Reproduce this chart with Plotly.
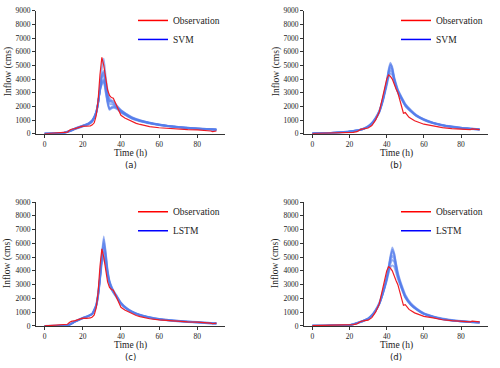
import plotly.graph_objects as go

# ---------------- Data ----------------
# Event 1 (panels a, c)
T_OBS1 = [0, 2, 4, 6, 8, 10, 12, 13, 14, 16, 18, 20, 22, 24, 25, 26, 27, 28, 29, 30, 31, 32, 33, 34, 35, 36, 37, 38,
          40, 42, 45, 48, 50, 55, 60, 65, 70, 75, 80, 85, 87, 88, 90]
OBS1 = [0, 20, 10, 30, 40, 60, 120, 250, 330, 380, 450, 560, 550, 580, 650, 800, 1300, 2400, 4300, 5600, 5000, 4000,
        3200, 2800, 2650, 2600, 2300, 1900, 1350, 1150, 950, 760, 680, 520, 440, 380, 330, 300, 280, 250, 200, 160, 200]

T_ENS1 = [0, 5, 10, 13, 16, 20, 23, 25, 27, 28, 29, 30, 31, 32, 33, 34, 35, 36, 38, 40, 43, 46, 50, 55, 60, 65, 70,
          75, 80, 85, 90]
SVM1 = [
    [0, 20, 60, 180, 350, 550, 700, 900, 1500, 2200, 3300, 4800, 5500, 4200, 3200, 2600, 2400, 2300, 2000, 1700, 1400, 1150, 950, 780, 650, 560, 480, 420, 380, 340, 300],
    [0, 25, 70, 200, 380, 580, 720, 950, 1550, 2250, 3300, 4300, 4600, 3700, 2900, 2400, 2300, 2200, 1950, 1650, 1380, 1150, 960, 790, 660, 560, 490, 430, 380, 340, 310],
    [0, 15, 50, 170, 330, 520, 680, 880, 1450, 2150, 3200, 4200, 4500, 3600, 2800, 2350, 2450, 2400, 2050, 1750, 1450, 1200, 1000, 820, 690, 580, 500, 440, 390, 350, 320],
    [0, 30, 80, 210, 400, 600, 760, 1000, 1600, 2300, 3200, 3800, 4000, 3300, 2400, 1850, 1950, 2000, 1900, 1600, 1350, 1120, 940, 780, 650, 560, 480, 420, 380, 340, 300],
    [0, 20, 60, 190, 370, 570, 740, 980, 1550, 2200, 3100, 3700, 3900, 3100, 2300, 1800, 1900, 1950, 1850, 1580, 1330, 1100, 930, 770, 640, 550, 470, 410, 370, 330, 290],
    [0, 25, 65, 200, 390, 590, 750, 990, 1580, 2250, 3150, 3600, 3800, 3000, 2200, 1750, 1850, 1900, 1800, 1550, 1300, 1080, 900, 750, 630, 540, 460, 400, 360, 320, 280],
    [0, 20, 55, 185, 360, 560, 730, 960, 1520, 2230, 3250, 4100, 4300, 3500, 2700, 2200, 2150, 2100, 1900, 1680, 1420, 1180, 980, 810, 680, 570, 500, 440, 390, 350, 310],
]
LSTM1 = [
    [0, 10, 20, 80, 300, 550, 700, 850, 1400, 2100, 3300, 5200, 6500, 5400, 4100, 3300, 2900, 2600, 2150, 1700, 1300, 1050, 820, 640, 520, 440, 380, 330, 290, 240, 200],
    [0, 10, 25, 90, 320, 560, 720, 880, 1450, 2200, 3400, 5100, 6300, 5300, 4000, 3250, 2850, 2550, 2100, 1680, 1280, 1030, 800, 630, 510, 430, 370, 320, 280, 230, 190],
    [0, 15, 30, 100, 330, 580, 740, 900, 1500, 2300, 3500, 5000, 6000, 5100, 3900, 3200, 2800, 2500, 2080, 1650, 1260, 1010, 790, 620, 500, 420, 360, 310, 270, 220, 180],
    [0, 15, 30, 100, 340, 590, 750, 920, 1550, 2350, 3500, 4900, 5700, 4900, 3800, 3150, 2750, 2480, 2060, 1630, 1240, 1000, 780, 610, 490, 410, 350, 300, 260, 210, 170],
    [0, 10, 20, 80, 310, 570, 730, 890, 1480, 2250, 3400, 4700, 5400, 4700, 3700, 3100, 2700, 2450, 2040, 1620, 1230, 990, 770, 600, 480, 400, 340, 290, 250, 200, 160],
    [0, 10, 25, 90, 320, 560, 720, 870, 1430, 2150, 3300, 4500, 5000, 4500, 3600, 3050, 2650, 2400, 2000, 1600, 1220, 980, 760, 590, 470, 390, 330, 280, 240, 190, 150],
]

# Event 2 (panels b, d)
T_OBS2 = [0, 5, 10, 15, 18, 20, 22, 24, 25, 26, 28, 30, 32, 34, 36, 38, 39, 40, 41, 42, 43, 44, 45, 46, 47, 48, 49, 50,
          52, 55, 58, 60, 65, 70, 75, 80, 85, 86, 88, 90]
OBS2 = [20, 30, 40, 50, 60, 80, 100, 150, 250, 320, 380, 420, 600, 1000, 1600, 2700, 3400, 4000, 4300, 4200, 4000, 3600,
        3300, 3000, 2500, 2100, 1500, 1550, 1200, 950, 800, 700, 580, 450, 380, 330, 300, 350, 310, 300]

T_ENS2B = [0, 5, 10, 15, 20, 25, 28, 30, 32, 34, 36, 38, 39, 40, 41, 42, 43, 44, 45, 46, 48, 50, 53, 56, 60, 65, 70,
           75, 80, 85, 90]
SVM2 = [
    [30, 40, 60, 100, 160, 260, 380, 520, 750, 1100, 1600, 2500, 3100, 3800, 4700, 5200, 4800, 4100, 3600, 3200, 2650, 2150, 1700, 1350, 1050, 800, 640, 530, 440, 380, 330],
    [30, 40, 60, 100, 160, 260, 380, 520, 740, 1080, 1580, 2450, 3050, 3700, 4500, 5000, 4700, 4050, 3550, 3150, 2600, 2100, 1680, 1330, 1040, 790, 630, 520, 430, 370, 320],
    [30, 45, 65, 110, 170, 270, 390, 540, 770, 1120, 1620, 2500, 3100, 3700, 4400, 4800, 4600, 4000, 3500, 3100, 2580, 2080, 1660, 1320, 1030, 780, 620, 510, 420, 360, 310],
    [30, 45, 65, 110, 170, 270, 400, 550, 780, 1150, 1650, 2550, 3100, 3650, 4250, 4600, 4450, 3950, 3450, 3050, 2550, 2060, 1640, 1300, 1020, 770, 610, 500, 410, 350, 300],
    [30, 40, 60, 100, 160, 250, 370, 510, 730, 1060, 1560, 2400, 2950, 3500, 4100, 4400, 4300, 3850, 3400, 3000, 2500, 2020, 1620, 1280, 1000, 760, 600, 490, 400, 340, 300],
    [30, 50, 70, 120, 180, 280, 410, 560, 800, 1180, 1700, 2600, 3200, 3850, 4600, 5100, 4900, 4200, 3700, 3250, 2700, 2200, 1740, 1380, 1080, 820, 650, 540, 450, 390, 340],
]

T_ENS2D = [0, 5, 10, 15, 20, 25, 28, 30, 32, 34, 36, 38, 40, 41, 42, 43, 44, 45, 46, 47, 48, 50, 53, 56, 60, 65, 70,
           75, 80, 85, 90]
LSTM2 = [
    [20, 20, 30, 40, 60, 250, 400, 520, 750, 1100, 1600, 2400, 3500, 4300, 5100, 5700, 5300, 4500, 3800, 3300, 2900, 2200, 1600, 1250, 900, 680, 520, 420, 350, 300, 260],
    [20, 20, 30, 40, 60, 240, 390, 510, 740, 1080, 1580, 2350, 3400, 4150, 4900, 5400, 5100, 4400, 3700, 3250, 2850, 2150, 1570, 1230, 890, 670, 510, 410, 340, 290, 250],
    [20, 20, 30, 40, 60, 260, 410, 530, 760, 1120, 1620, 2450, 3450, 4100, 4700, 5100, 4850, 4250, 3650, 3200, 2800, 2100, 1550, 1210, 880, 660, 500, 400, 330, 280, 240],
    [20, 20, 30, 40, 60, 250, 400, 520, 750, 1100, 1600, 2400, 3350, 3950, 4500, 4800, 4650, 4100, 3550, 3150, 2750, 2080, 1530, 1200, 870, 650, 490, 390, 330, 280, 240],
    [20, 20, 30, 40, 60, 240, 390, 510, 740, 1090, 1580, 2350, 3250, 3800, 4250, 4400, 4300, 3900, 3400, 3050, 2700, 2050, 1520, 1190, 860, 640, 480, 380, 320, 270, 230],
    [20, 25, 35, 45, 70, 280, 430, 560, 800, 1180, 1700, 2550, 3600, 4250, 4950, 5550, 5250, 4600, 3900, 3400, 3000, 2280, 1660, 1290, 930, 700, 540, 430, 360, 310, 270],
]

X_TICKS = [0, 20, 40, 60, 80]
Y_TICKS = [0, 1000, 2000, 3000, 4000, 5000, 6000, 7000, 8000, 9000]
PANEL_LABELS = ["(a)", "(b)", "(c)", "(d)"]
MODEL_NAMES = ["SVM", "SVM", "LSTM", "LSTM"]

# ---------------- Layout geometry ----------------
W, H = 500, 368
X_DOMAINS = [(36 / W, 225 / W), (304 / W, 488 / W), (36 / W, 225 / W), (304 / W, 488 / W)]
Y_PIX = [(7, 133), (7, 133), (203, 330), (203, 330)]
Y_DOMAINS = [((H - b) / H, (H - t) / H) for t, b in Y_PIX]

panels = [
    (T_OBS1, OBS1, T_ENS1, SVM1),
    (T_OBS2, OBS2, T_ENS2B, SVM2),
    (T_OBS1, OBS1, T_ENS1, LSTM1),
    (T_OBS2, OBS2, T_ENS2D, LSTM2),
]

SERIF = "Liberation Serif"
ENS_COLOR = "rgba(85,125,235,0.6)"
OBS_COLOR = "#ee1c25"

fig = go.Figure()
layout = dict(width=W, height=H, margin=dict(l=0, r=0, t=0, b=0),
              paper_bgcolor="white", plot_bgcolor="white", showlegend=True)
annotations = []

for i, (tobs, obs, tens, ens) in enumerate(panels):
    k = "" if i == 0 else str(i + 1)
    xa, ya = "x" + k, "y" + k
    leg = "legend" + k
    fig.add_trace(go.Scatter(x=[None], y=[None], mode="lines", name="Observation",
                             line=dict(color="#ff0000", width=1.5), xaxis=xa, yaxis=ya, legend=leg))
    fig.add_trace(go.Scatter(x=[None], y=[None], mode="lines", name=MODEL_NAMES[i],
                             line=dict(color="#0000ff", width=1.5), xaxis=xa, yaxis=ya, legend=leg))
    for m in ens:
        fig.add_trace(go.Scatter(x=tens, y=m, mode="lines", showlegend=False,
                                 line=dict(color=ENS_COLOR, width=1.8, shape="spline", smoothing=0.4),
                                 xaxis=xa, yaxis=ya, hoverinfo="skip"))
    fig.add_trace(go.Scatter(x=tobs, y=obs, mode="lines", showlegend=False,
                             line=dict(color=OBS_COLOR, width=1.2), xaxis=xa, yaxis=ya))

    axis_common = dict(showline=True, linecolor="#333333", linewidth=0.8, ticks="outside",
                       ticklen=3, tickwidth=0.8, tickcolor="#333333", showgrid=False, zeroline=False,
                       tickfont=dict(family=SERIF, size=7.5, color="#222222"))
    layout["xaxis" + k] = dict(domain=list(X_DOMAINS[i]), range=[-4.5, 94.5], tickvals=X_TICKS,
                               anchor=ya, **axis_common)
    layout["yaxis" + k] = dict(domain=list(Y_DOMAINS[i]), range=[0, 9000], tickvals=Y_TICKS,
                               anchor=xa, **axis_common)

    x0p, x1p = X_DOMAINS[i][0] * W, X_DOMAINS[i][1] * W
    top, bot = Y_PIX[i]
    layout[leg] = dict(x=(x1p - 92) / W, y=min(1.0, (H - top + 5) / H), xanchor="left", yanchor="top",
                       bgcolor="rgba(0,0,0,0)", font=dict(family=SERIF, size=9.5, color="#222222"),
                       itemwidth=30, tracegroupgap=0)
    annotations.append(dict(text="Time (h)", x=(x0p + x1p) / 2 / W, y=(H - bot - 20.5) / H, xref="paper",
                            yref="paper", showarrow=False, xanchor="center", yanchor="middle",
                            font=dict(family=SERIF, size=9.5, color="#222222")))
    annotations.append(dict(text=PANEL_LABELS[i], x=(x0p + x1p) / 2 / W, y=(H - bot - 32) / H, xref="paper",
                            yref="paper", showarrow=False, xanchor="center", yanchor="middle",
                            font=dict(family="DejaVu Sans", size=8.5, color="#222222")))
    annotations.append(dict(text="Inflow (cms)", x=(x0p - 28) / W, y=(H - (top + bot) / 2) / H, xref="paper",
                            yref="paper", showarrow=False, xanchor="center", yanchor="middle", textangle=-90,
                            font=dict(family=SERIF, size=9.5, color="#222222")))

layout["annotations"] = annotations
fig.update_layout(**layout)
fig.write_html("out.html")
